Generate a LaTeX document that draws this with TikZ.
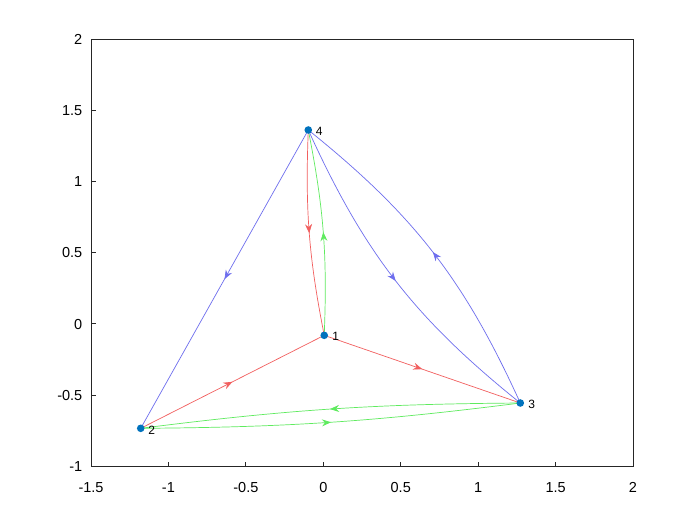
\documentclass[tikz,border=0pt]{standalone}
\usepackage{fontspec}
\setmainfont{Liberation Sans}
\usetikzlibrary{arrows.meta,decorations.markings}
\definecolor{ered}{RGB}{242,95,95}
\definecolor{egreen}{RGB}{95,235,95}
\definecolor{eblue}{RGB}{110,110,238}
\definecolor{mblue}{RGB}{0,114,189}
\tikzset{
  edge/.style={line width=0.7pt,postaction=decorate,
    decoration={markings,mark=at position 0.5 with {\arrow{Stealth[length=9pt,width=7pt,inset=3pt]}}}},
  dot/.style={circle,fill=mblue,inner sep=0pt,minimum size=7.6pt},
  lbl/.style={font=\fontsize{12}{14}\selectfont,inner sep=0pt,anchor=center},
  ticklbl/.style={font=\fontsize{14.5}{17}\selectfont,inner sep=0pt},
  axisline/.style={line width=0.8pt,black!85}
}
\begin{document}
\begin{tikzpicture}[x=154.86pt,y=142.2pt]
\useasboundingbox (-2.0877,-1.4149) rectangle (2.4325,2.2771);
\fill[white] (-2.0877,-1.4149) rectangle (2.4325,2.2771);
% axes box
\draw[axisline] (-1.5,-1) rectangle (2,2);
\foreach \x/\t in {-1.5/-1.5,-1/-1,-0.5/-0.5,0/0,0.5/0.5,1/1,1.5/1.5,2/2}{
  \draw[axisline] (\x,-1) -- ++(0,4.5pt);
  \node[ticklbl,anchor=base] (xt\t) at ([yshift=-26pt]\x,-1) {\t};
}
\foreach \y/\t in {-1/-1,-0.5/-0.5,0/0,0.5/0.5,1/1,1.5/1.5,2/2}{
  \draw[axisline] (-1.5,\y) -- ++(4.5pt,0);
  \node[ticklbl,anchor=base east] (yt\t) at ([xshift=-8.5pt,yshift=-5.2pt]-1.5,\y) {\t};
}
% node positions
\coordinate (p1) at (0.006,-0.081);
\coordinate (p2) at (-1.179,-0.735);
\coordinate (p3) at (1.272,-0.557);
\coordinate (p4) at (-0.097,1.363);
% edges
\draw[edge,ered] (p4) to[bend right=6.7] (p1);
\draw[edge,egreen] (p1) to[bend right=6.7] (p4);
\draw[edge,ered] (p2) -- (p1);
\draw[edge,ered] (p1) -- (p3);
\draw[edge,egreen] (p3) to[bend right=3.4] (p2);
\draw[edge,egreen] (p2) to[bend right=3.4] (p3);
\draw[edge,eblue] (p4) -- (p2);
\draw[edge,eblue] (p4) to[bend right=13.4] (p3);
\draw[edge,eblue] (p3) to[bend right=13.4] (p4);
% markers and labels
\node[dot] (n1) at (p1) {};
\node[dot] (n2) at (p2) {};
\node[dot] (n3) at (p3) {};
\node[dot] (n4) at (p4) {};
\node[lbl] (l1) at ([xshift=11.5pt,yshift=-1.5pt]p1) {1};
\node[lbl] (l2) at ([xshift=11pt,yshift=-1.7pt]p2) {2};
\node[lbl] (l3) at ([xshift=11.4pt,yshift=-1pt]p3) {3};
\node[lbl] (l4) at ([xshift=11pt,yshift=-1.7pt]p4) {4};
\end{tikzpicture}
\end{document}
